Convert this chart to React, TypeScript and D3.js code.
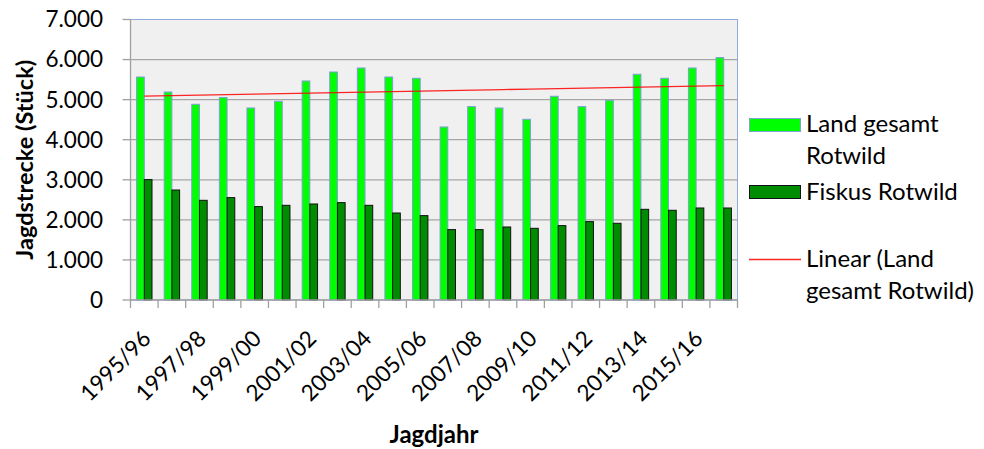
import React, { useEffect, useRef } from 'react';
import * as d3 from 'd3';

// Jagdjahre (22 Kategorien)
const years = [
  '1995/96', '1996/97', '1997/98', '1998/99', '1999/00', '2000/01', '2001/02', '2002/03',
  '2003/04', '2004/05', '2005/06', '2006/07', '2007/08', '2008/09', '2009/10', '2010/11',
  '2011/12', '2012/13', '2013/14', '2014/15', '2015/16', '2016/17',
];

const landGesamt = [
  5565, 5191, 4884, 5051, 4792, 4959, 5466, 5690, 5790, 5565, 5533,
  4318, 4826, 4792, 4510, 5084, 4826, 4984, 5633, 5533, 5790, 6049,
];

const fiskus = [
  3005, 2745, 2488, 2555, 2331, 2363, 2396, 2430, 2363, 2171, 2106,
  1757, 1757, 1822, 1789, 1856, 1956, 1914, 2263, 2239, 2296, 2296,
];

const yTicks = [0, 1000, 2000, 3000, 4000, 5000, 6000, 7000];

const legendItems = [
  { key: 'land', lines: ['Land gesamt', 'Rotwild'] },
  { key: 'fiskus', lines: ['Fiskus Rotwild'] },
  { key: 'trend', lines: ['Linear (Land', 'gesamt Rotwild)'] },
];

const FONT = 'Lato, "Open Sans", sans-serif';

function App() {
  const svgRef = useRef(null);

  useEffect(() => {
    const root = d3.select(svgRef.current);
    root.selectAll('*').remove();

    const left = 130.5, right = 737.5, top = 19.5, bottom = 300;

    const de = d3.formatLocale({ decimal: ',', thousands: '.', grouping: [3], currency: ['', ' €'] });
    const fmt = de.format(',d');

    const x = d3.scaleBand().domain(years).range([left, right]).padding(0);
    const inner = d3.scaleBand().domain(['land', 'fiskus']).range([0, x.bandwidth()])
      .paddingInner(0).paddingOuter(0.79);
    const y = d3.scaleLinear().domain([0, 7000]).range([bottom, top]);

    // plot area
    root.append('rect')
      .attr('x', left).attr('y', top)
      .attr('width', right - left).attr('height', bottom - top)
      .attr('fill', '#f0f0f0')
      .attr('stroke', '#8eaad8').attr('stroke-width', 1);

    // gridlines
    root.append('g').selectAll('line')
      .data(yTicks.filter(d => d > 0 && d < 7000))
      .join('line')
      .attr('x1', left).attr('x2', right)
      .attr('y1', d => y(d)).attr('y2', d => y(d))
      .attr('stroke', '#a6a6a6').attr('stroke-width', 1.3);

    // bars
    const groups = root.append('g').selectAll('g')
      .data(years)
      .join('g')
      .attr('transform', d => `translate(${x(d)},0)`);

    groups.append('rect')
      .attr('x', inner('land'))
      .attr('y', (d, i) => y(landGesamt[i]))
      .attr('width', inner.bandwidth())
      .attr('height', (d, i) => bottom - y(landGesamt[i]))
      .attr('fill', '#00ff00')
      .attr('stroke', '#7f9fd6').attr('stroke-width', 1);

    groups.append('rect')
      .attr('x', inner('fiskus'))
      .attr('y', (d, i) => y(fiskus[i]))
      .attr('width', inner.bandwidth())
      .attr('height', (d, i) => bottom - y(fiskus[i]))
      .attr('fill', '#008c00')
      .attr('stroke', '#111').attr('stroke-width', 1);

    // linear trend of Land gesamt
    const idx = landGesamt.map((_, i) => i);
    const mx = d3.mean(idx), my = d3.mean(landGesamt);
    const slope = d3.sum(idx, i => (i - mx) * (landGesamt[i] - my)) / d3.sum(idx, i => (i - mx) ** 2);
    const trend = idx.map(i => my + slope * (i - mx));
    const cx = i => x(years[i]) + x.bandwidth() / 2;
    root.append('path')
      .datum(trend)
      .attr('fill', 'none')
      .attr('stroke', '#ff0000').attr('stroke-opacity', 0.85).attr('stroke-width', 1.3)
      .attr('d', d3.line().x((d, i) => cx(i)).y(d => y(d)));

    // y axis
    root.append('line')
      .attr('x1', left).attr('x2', left).attr('y1', top).attr('y2', bottom)
      .attr('stroke', '#a0a0a0').attr('stroke-width', 1.3);
    const yAxis = root.append('g');
    yAxis.selectAll('line')
      .data(yTicks).join('line')
      .attr('x1', left - 8).attr('x2', left)
      .attr('y1', d => y(d)).attr('y2', d => y(d))
      .attr('stroke', '#a0a0a0').attr('stroke-width', 1.3);
    yAxis.selectAll('text')
      .data(yTicks).join('text')
      .attr('x', 103).attr('y', d => y(d))
      .attr('dy', '0.35em')
      .attr('text-anchor', 'end')
      .attr('font-family', FONT).attr('font-size', 22.5)
      .attr('fill', '#000')
      .text(d => fmt(d));

    // x axis
    root.append('line')
      .attr('x1', left).attr('x2', right).attr('y1', bottom).attr('y2', bottom)
      .attr('stroke', '#a0a0a0').attr('stroke-width', 1.3);
    const bounds = years.map(d => x(d)).concat([right]);
    root.append('g').selectAll('line')
      .data(bounds).join('line')
      .attr('x1', d => d).attr('x2', d => d)
      .attr('y1', bottom).attr('y2', bottom + 8)
      .attr('stroke', '#a0a0a0').attr('stroke-width', 1.3);
    root.append('g').selectAll('text')
      .data(years.filter((d, i) => i % 2 === 0))
      .join('text')
      .attr('transform', d => `translate(${x(d) + x.bandwidth() / 2 + 8},${bottom + 40}) rotate(-45)`)
      .attr('text-anchor', 'end')
      .attr('font-family', FONT).attr('font-size', 22.5)
      .attr('fill', '#000')
      .text(d => d);

    // axis titles
    root.append('text')
      .attr('transform', `translate(33,${(top + bottom) / 2}) rotate(-90)`)
      .attr('text-anchor', 'middle')
      .attr('font-family', FONT).attr('font-size', 23.5).attr('font-weight', 'bold')
      .text('Jagdstrecke (Stück)');
    root.append('text')
      .attr('x', (left + right) / 2).attr('y', 443)
      .attr('text-anchor', 'middle')
      .attr('font-family', FONT).attr('font-size', 24).attr('font-weight', 'bold')
      .text('Jagdjahr');

    // legend
    const legendY = { land: 132, fiskus: 200, trend: 267 };
    const leg = root.append('g').selectAll('g')
      .data(legendItems).join('g');
    leg.each(function (d) {
      const g = d3.select(this);
      const by = legendY[d.key];
      if (d.key === 'land') {
        g.append('rect').attr('x', 749.5).attr('y', by - 13.5).attr('width', 51).attr('height', 13)
          .attr('fill', '#00ff00').attr('stroke', '#7f9fd6');
      } else if (d.key === 'fiskus') {
        g.append('rect').attr('x', 749.5).attr('y', by - 14.5).attr('width', 51).attr('height', 13)
          .attr('fill', '#008c00').attr('stroke', '#111');
      } else {
        g.append('line').attr('x1', 749).attr('x2', 801).attr('y1', by - 7.5).attr('y2', by - 7.5)
          .attr('stroke', '#ff0000').attr('stroke-opacity', 0.85).attr('stroke-width', 1.3);
      }
      g.selectAll('text').data(d.lines).join('text')
        .attr('x', 806).attr('y', (t, i) => by + i * 32)
        .attr('font-family', FONT).attr('font-size', 24)
        .attr('fill', '#000')
        .text(t => t);
    });
  }, []);

  return (
    <svg ref={svgRef} width={984} height={449}
      style={{ position: 'absolute', left: 0, top: 0, background: '#fff' }} />
  );
}

export default App;
